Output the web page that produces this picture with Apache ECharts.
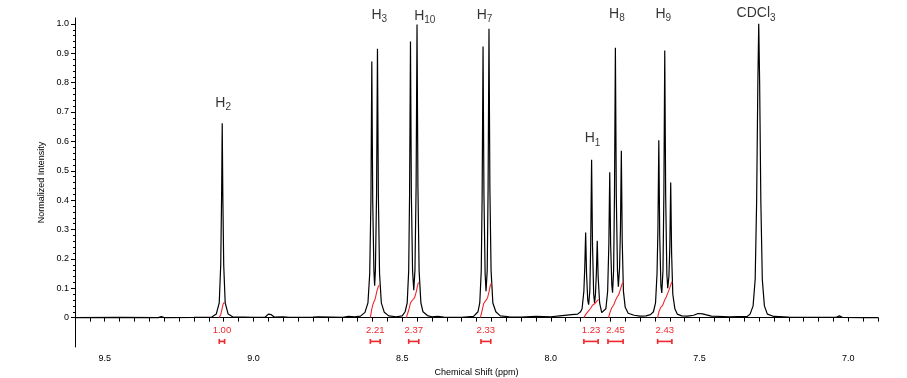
<!DOCTYPE html>
<html>
<head>
<meta charset="utf-8">
<title>1H NMR spectrum</title>
<script src="https://cdn.jsdelivr.net/npm/echarts@6/dist/echarts.min.js"></script>
<style>
  html, body { margin: 0; padding: 0; background: #fff; }
  #chart { width: 907px; height: 378px; }
</style>
</head>
<body>
<div id="chart"></div>
<script>
// spectrum trace, [ppm, normalized intensity]
const spectrum = [
  [9.60, 0.0], [9.45, 0.001], [9.32, 0.0], [9.31, 0.004], [9.30, 0.0], [9.20, 0.001], [9.14, 0.002],
  // H2
  [9.125, 0.012], [9.115, 0.05], [9.110, 0.18], [9.107, 0.42], [9.105, 0.662], [9.103, 0.42], [9.100, 0.18], [9.095, 0.05], [9.085, 0.012],
  [9.07, 0.003], [9.00, 0.001], [8.96, 0.002], [8.95, 0.012], [8.945, 0.015], [8.94, 0.01], [8.93, 0.002], [8.90, 0.003],
  [8.88, 0.001], [8.80, 0.002], [8.78, 0.003], [8.70, 0.001], [8.68, 0.004], [8.66, 0.003],
  // H3
  [8.64, 0.005], [8.625, 0.018], [8.615, 0.05], [8.609, 0.15], [8.605, 0.4], [8.602, 0.872], [8.599, 0.4], [8.595, 0.16],
  [8.5925, 0.109], [8.590, 0.16], [8.586, 0.42], [8.583, 0.915], [8.580, 0.42], [8.576, 0.15], [8.570, 0.05], [8.56, 0.018],
  [8.545, 0.006], [8.52, 0.003],
  // H10
  [8.50, 0.006], [8.49, 0.02], [8.483, 0.05], [8.478, 0.16], [8.475, 0.42], [8.472, 0.94], [8.469, 0.42], [8.465, 0.16],
  [8.461, 0.093], [8.457, 0.16], [8.453, 0.45], [8.450, 0.998], [8.447, 0.45], [8.443, 0.16], [8.437, 0.05], [8.43, 0.02],
  [8.415, 0.007], [8.40, 0.003], [8.38, 0.004], [8.36, 0.002], [8.30, 0.001], [8.26, 0.004],
  // H7
  [8.255, 0.006], [8.245, 0.02], [8.239, 0.05], [8.234, 0.16], [8.231, 0.42], [8.228, 0.923], [8.225, 0.42], [8.221, 0.15],
  [8.218, 0.09], [8.214, 0.16], [8.211, 0.44], [8.208, 0.983], [8.205, 0.44], [8.201, 0.16], [8.195, 0.05], [8.185, 0.02],
  [8.17, 0.006], [8.14, 0.003], [8.10, 0.002], [8.05, 0.004], [8.00, 0.003], [7.97, 0.006], [7.93, 0.01], [7.91, 0.012], [7.90, 0.02],
  // H1
  [7.895, 0.03], [7.889, 0.09], [7.886, 0.17], [7.883, 0.29], [7.880, 0.15], [7.876, 0.06], [7.873, 0.044], [7.869, 0.09],
  [7.866, 0.25], [7.863, 0.537], [7.860, 0.25], [7.856, 0.08], [7.853, 0.05], [7.850, 0.08], [7.847, 0.15], [7.844, 0.262],
  [7.841, 0.14], [7.836, 0.05], [7.829, 0.017],
  // H8
  [7.815, 0.03], [7.809, 0.09], [7.805, 0.25], [7.802, 0.495], [7.799, 0.25], [7.795, 0.11], [7.7925, 0.085], [7.789, 0.16],
  [7.786, 0.42], [7.783, 0.919], [7.780, 0.42], [7.776, 0.16], [7.773, 0.105], [7.769, 0.17], [7.766, 0.3], [7.763, 0.568],
  [7.760, 0.26], [7.756, 0.09], [7.750, 0.035], [7.740, 0.015], [7.72, 0.008], [7.70, 0.005], [7.68, 0.006], [7.665, 0.01],
  // H9
  [7.655, 0.02], [7.648, 0.05], [7.643, 0.15], [7.640, 0.3], [7.637, 0.604], [7.634, 0.28], [7.630, 0.11], [7.627, 0.084],
  [7.623, 0.16], [7.620, 0.42], [7.617, 0.909], [7.614, 0.42], [7.610, 0.15], [7.607, 0.10], [7.603, 0.14], [7.600, 0.24],
  [7.597, 0.46], [7.594, 0.22], [7.590, 0.08], [7.583, 0.03], [7.575, 0.012], [7.56, 0.006], [7.54, 0.005], [7.52, 0.008],
  [7.505, 0.014], [7.49, 0.013], [7.48, 0.01], [7.46, 0.005], [7.40, 0.003], [7.34, 0.004],
  // CDCl3
  [7.33, 0.012], [7.32, 0.04], [7.313, 0.13], [7.308, 0.4], [7.304, 0.8], [7.301, 1.0], [7.298, 0.8], [7.294, 0.4],
  [7.289, 0.13], [7.282, 0.04], [7.272, 0.012], [7.25, 0.004], [7.20, 0.002], [7.10, 0.001], [7.04, 0.001], [7.03, 0.006],
  [7.02, 0.001], [6.95, 0.0], [6.90, 0.0]
]

// integral traces
const integralCurves = [
  [[9.116, 0.0], [9.110, 0.01], [9.106, 0.028], [9.102, 0.046], [9.097, 0.053]],
  [[8.607, 0.0], [8.602, 0.03], [8.598, 0.046], [8.594, 0.056], [8.590, 0.066], [8.585, 0.09], [8.580, 0.106], [8.576, 0.112]],
  [[8.486, 0.0], [8.478, 0.025], [8.472, 0.05], [8.465, 0.06], [8.458, 0.068], [8.452, 0.09], [8.448, 0.11], [8.445, 0.12]],
  [[8.237, 0.0], [8.231, 0.025], [8.226, 0.048], [8.219, 0.058], [8.213, 0.067], [8.208, 0.088], [8.204, 0.108], [8.200, 0.117]],
  [[7.889, 0.0], [7.882, 0.012], [7.874, 0.022], [7.866, 0.032], [7.860, 0.042], [7.852, 0.048], [7.846, 0.055], [7.840, 0.062]],
  [[7.806, 0.0], [7.800, 0.022], [7.795, 0.034], [7.789, 0.042], [7.783, 0.058], [7.777, 0.07], [7.771, 0.08], [7.765, 0.1], [7.760, 0.116], [7.756, 0.122]],
  [[7.641, 0.0], [7.636, 0.022], [7.631, 0.034], [7.624, 0.042], [7.618, 0.058], [7.612, 0.07], [7.606, 0.085], [7.600, 0.102], [7.595, 0.117], [7.592, 0.123]]
]
const integralFrom = [9.115, 8.607, 8.478, 8.235, 7.889, 7.808, 7.641]
const integralTo = [9.097, 8.574, 8.444, 8.202, 7.841, 7.757, 7.593]
const integralValues = ['1.00', '2.21', '2.37', '2.33', '1.23', '2.45', '2.43']

// peak assignments
const peakNames = ['H', 'H', 'H', 'H', 'H', 'H', 'H', 'CDCl']
const peakSubs = ['2', '3', '10', '7', '1', '8', '9', '3']
const peakShift = [9.102, 8.577, 8.424, 8.223, 7.860, 7.778, 7.622, 7.310]
const peakLevel = [0.731, 1.03, 1.027, 1.03, 0.61, 1.033, 1.033, 1.035]

const xTickLabels = [9.5, 9.0, 8.5, 8.0, 7.5, 7.0]
const yTickLabels = [0, 0.1, 0.2, 0.3, 0.4, 0.5, 0.6, 0.7, 0.8, 0.9, 1.0]

const xTicks = []
for (let i = 138; i <= 192; i++) xTicks.push(+(i * 0.05).toFixed(2))
const yMinorTicks = []
for (let i = 1; i <= 50; i++) if (i % 5) yMinorTicks.push(+(i * 0.02).toFixed(2))

const RED = '#f0282d'
const FONT = 'Liberation Sans, Arial, sans-serif'

const chart = echarts.init(document.getElementById('chart'))

const series = [{
  type: 'line',
  data: spectrum,
  showSymbol: false,
  lineStyle: { color: '#000', width: 1.2 },
  z: 3
}]
integralCurves.forEach(c => {
  series.push({
    type: 'line',
    data: c,
    showSymbol: false,
    lineStyle: { color: RED, width: 1.1 },
    z: 4
  })
})
series.push({
  type: 'custom',
  data: integralFrom.map((f, i) => [f, integralTo[i]]),
  renderItem(params, api) {
    const a = api.coord([api.value(0), -0.081])
    const b = api.coord([api.value(1), -0.081])
    const c = api.coord([(api.value(0) + api.value(1)) / 2, -0.043])
    const st = { stroke: RED, lineWidth: 1.6 }
    return {
      type: 'group',
      children: [
        { type: 'line', shape: { x1: a[0], y1: a[1], x2: b[0], y2: b[1] }, style: st },
        { type: 'line', shape: { x1: a[0], y1: a[1] - 2.5, x2: a[0], y2: a[1] + 2.5 }, style: st },
        { type: 'line', shape: { x1: b[0], y1: b[1] - 2.5, x2: b[0], y2: b[1] + 2.5 }, style: st },
        {
          type: 'text', x: c[0], y: c[1],
          style: {
            text: integralValues[params.dataIndex], fill: RED,
            font: '9.5px ' + FONT, align: 'center', verticalAlign: 'middle'
          }
        }
      ]
    }
  }
})
series.push({
  type: 'scatter',
  clip: false,
  symbolSize: 0,
  data: peakShift.map((x, i) => ({ value: [x, peakLevel[i]], name: peakNames[i], sub: peakSubs[i] })),
  label: {
    show: true,
    position: 'inside',
    formatter: p => '{m|' + p.data.name + '}{s|' + p.data.sub + '}',
    rich: {
      m: { fontSize: 14, fontFamily: FONT, color: '#000' },
      s: { fontSize: 10, fontFamily: FONT, color: '#000', padding: [9, 0, 0, 0] }
    }
  }
})

chart.setOption({
  animation: false,
  grid: { left: 75, right: 29, top: 18, bottom: 31, outerBoundsMode: 'none' },
  xAxis: {
    type: 'value',
    min: 6.9,
    max: 9.6,
    inverse: true,
    name: 'Chemical Shift (ppm)',
    nameLocation: 'middle',
    nameGap: 18,
    nameTextStyle: { fontSize: 9, fontFamily: FONT, color: '#000' },
    axisLine: { lineStyle: { color: '#000', width: 1 } },
    axisTick: { customValues: xTicks, length: 4, lineStyle: { color: '#000' } },
    axisLabel: {
      customValues: xTickLabels,
      formatter: v => v.toFixed(1),
      fontSize: 9, fontFamily: FONT, color: '#000', margin: 7
    },
    splitLine: { show: false }
  },
  yAxis: [{
    type: 'value',
    min: -0.1,
    max: 1.02,
    name: 'Normalized Intensity',
    nameLocation: 'middle',
    nameGap: 25,
    nameTextStyle: { fontSize: 9, fontFamily: FONT, color: '#000' },
    axisLine: { show: true, lineStyle: { color: '#000', width: 1 } },
    axisTick: { show: true, customValues: yTickLabels, length: 4, lineStyle: { color: '#000' } },
    axisLabel: {
      customValues: yTickLabels,
      formatter: v => v === 0 ? '0' : v.toFixed(1),
      fontSize: 9, fontFamily: FONT, color: '#000', margin: 6
    },
    splitLine: { show: false }
  }, {
    type: 'value',
    min: -0.1,
    max: 1.02,
    position: 'left',
    axisLine: { show: false },
    axisTick: { show: true, customValues: yMinorTicks, length: 2, lineStyle: { color: '#000' } },
    axisLabel: { show: false },
    splitLine: { show: false }
  }],
  series: series
})
</script>
</body>
</html>
